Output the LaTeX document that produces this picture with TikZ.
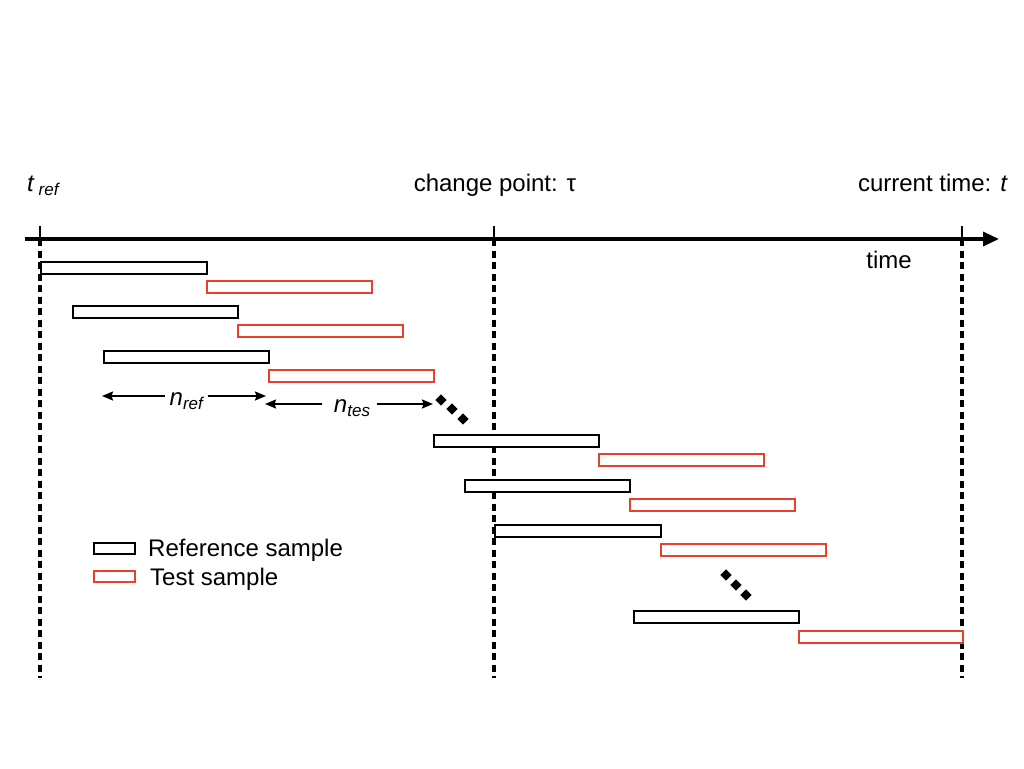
\documentclass[tikz,border=0pt]{standalone}
\usepackage{fontspec}
\setmainfont{Liberation Sans}
\usetikzlibrary{arrows.meta}
\definecolor{testred}{RGB}{232,64,42}
\newcommand{\subtxt}[1]{\raisebox{-4pt}{\fontsize{17}{19}\selectfont\textit{#1}}}
\begin{document}
\begin{tikzpicture}[x=1pt,y=-1pt,
  refbox/.style={draw=black,line width=2.3pt,fill=white,minimum height=12pt,inner sep=0pt,anchor=north west},
  testbox/.style={draw=testred,line width=2.3pt,fill=white,minimum height=12pt,inner sep=0pt,anchor=north west},
  vline/.style={line width=3.2pt,dash pattern=on 7pt off 4.5pt},
  dimarrow/.style={line width=1.8pt,-{Stealth[length=11pt,width=9pt,inset=1.5pt]}},
  dotmark/.style={fill=black,draw=none,minimum size=8pt,inner sep=0pt,rotate=45,rectangle},
  lab/.style={font=\fontsize{24}{28}\selectfont,inner sep=0pt}]
\useasboundingbox (0,0) rectangle (1024,768);
% axis
\coordinate (axL) at (25,239);
\coordinate (axR) at (999,239);
\draw[line width=3.2pt,-{Triangle[length=16pt,width=14pt]}] (axL) -- (axR);
% vertical lines
\foreach \x/\n in {40/a,494/b,962/c}{
  \coordinate (\n top) at (\x,226);
  \coordinate (\n mid) at (\x,239);
  \coordinate (\n bot) at (\x,678);
  \draw[line width=2.6pt] (\n top) -- (\n mid);
  \draw[vline] (\n mid) -- (\n bot);
}
% labels
\node[lab,anchor=base west] (tref) at (27,191) {\textit{t}\,\subtxt{ref}};
\node[lab,anchor=base] (cp) at (495,191) {change point: τ};
\node[lab,anchor=base east] (ct) at (1008,191) {current time: \textit{t}};
\node[lab,anchor=base] (tm) at (889,268) {time};
% boxes
\node[refbox,minimum width=166pt] (r1) at (40,261) {};
\node[testbox,minimum width=165pt] (t1) at (206,280) {};
\node[refbox,minimum width=165pt] (r2) at (72,305) {};
\node[testbox,minimum width=165pt] (t2) at (237,324) {};
\node[refbox,minimum width=165pt] (r3) at (103,350) {};
\node[testbox,minimum width=165pt] (t3) at (268,369) {};
\node[refbox,minimum width=165pt] (r4) at (433,434) {};
\node[testbox,minimum width=165pt] (t4) at (598,453) {};
\node[refbox,minimum width=165pt] (r5) at (464,479) {};
\node[testbox,minimum width=165pt] (t5) at (629,498) {};
\node[refbox,minimum width=166pt] (r6) at (494,524) {};
\node[testbox,minimum width=165pt] (t6) at (660,543) {};
\node[refbox,minimum width=165pt] (r7) at (633,610) {};
\node[testbox,minimum width=164pt] (t7) at (798,630) {};
% n_ref / n_tes
\node[lab,anchor=base] (nref) at (187,405) {\textit{n}\subtxt{ref}};
\node[lab,anchor=base] (ntes) at (352,412) {\textit{n}\subtxt{tes}};
\coordinate (nrefL) at (102,396);
\coordinate (nrefR) at (266,396);
\coordinate (ntesL) at (265,404);
\coordinate (ntesR) at (433,404);
\draw[dimarrow] (165,396) -- (nrefL);
\draw[dimarrow] (208,396) -- (nrefR);
\draw[dimarrow] (322,404) -- (ntesL);
\draw[dimarrow] (377,404) -- (ntesR);
% dots
\node[dotmark] (d1) at (441,400) {};
\node[dotmark] (d2) at (452,409) {};
\node[dotmark] (d3) at (463,419) {};
\node[dotmark] (d4) at (726,575) {};
\node[dotmark] (d5) at (736,585) {};
\node[dotmark] (d6) at (746,595) {};
% legend
\node[refbox,minimum width=41pt,minimum height=11pt] (lr) at (93,542) {};
\node[testbox,minimum width=41pt,minimum height=11pt] (lt) at (93,570) {};
\node[lab,anchor=base west] (lrt) at (148,556) {Reference sample};
\node[lab,anchor=base west] (ltt) at (150,585) {Test sample};
\end{tikzpicture}
\end{document}
